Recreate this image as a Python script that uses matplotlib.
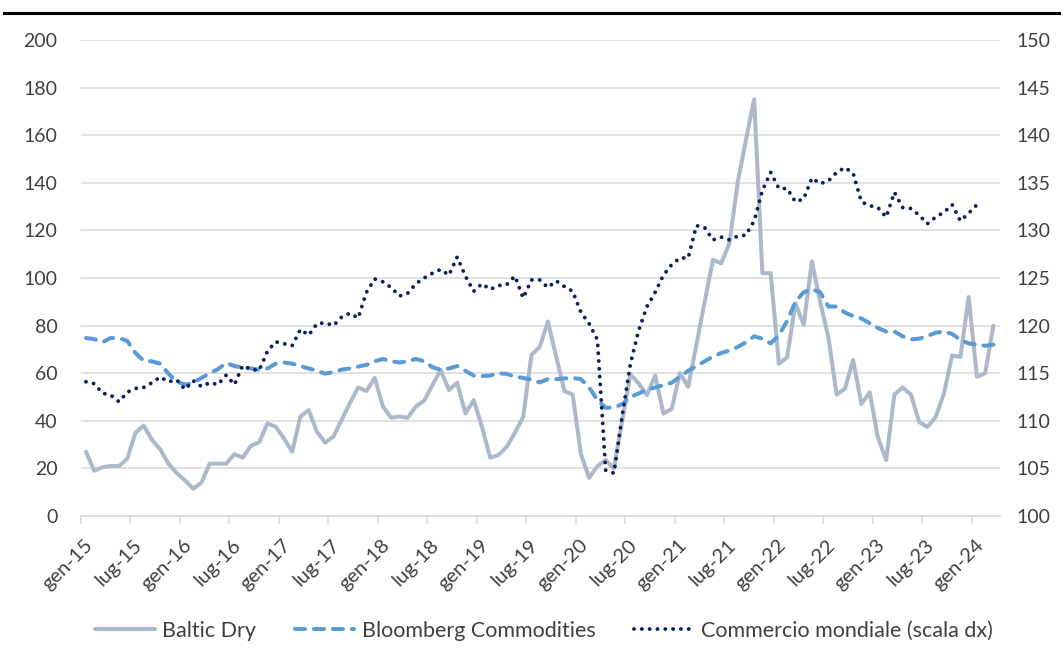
import matplotlib
matplotlib.use("Agg")
import matplotlib.pyplot as plt
from matplotlib.lines import Line2D
import matplotlib.transforms as mtransforms

plt.rcParams['font.family'] = ['Lato', 'DejaVu Sans']

# Monthly values, January 2015 onwards
baltic_dry = [27, 19, 20.5, 21, 21, 24, 35, 38, 32, 28, 22, 18, 15, 11.5, 14, 22, 22, 22, 26, 24.5,
              29.5, 31, 38.9, 37.5, 32.6, 27, 41.8, 44.5, 35.4, 30.8, 33.4, 40.4, 47.5, 54, 52.5, 58,
              46, 41.3, 41.8, 41.3, 46, 48.5, 55, 61.3, 52.9, 56, 43.1, 48.7, 37.5, 24.5, 25.6, 29,
              35, 41.7, 67.7, 71, 81.7, 67, 52.5, 51, 26, 16, 21, 23.5, 20, 40, 59.5, 55.7, 50.8, 59,
              43, 45, 60, 54.3, 72, 90, 107.6, 106.2, 114.6, 140, 158, 175, 102, 102, 64, 66.7, 89.4,
              80.3, 107, 90, 75, 51, 53.5, 65.5, 47, 52, 33, 23.5, 51, 54, 51, 39.5, 37.4, 41.6, 51.4,
              67.5, 66.8, 92, 58.5, 60, 80]

bloomberg = [74.8, 74.3, 73, 74.8, 74.8, 73.6, 68.5, 65.2, 65, 64, 59.8, 56.5, 55.2, 56, 58, 60,
             61.7, 64.3, 63, 62.4, 62, 61.5, 62, 64, 64.5, 64, 63, 62, 61, 59.8, 60.5, 61.5, 62, 62.8,
             63.5, 65, 66, 65, 64.5, 65, 66, 65, 62.5, 61.5, 62, 63, 61, 59, 58.8, 59, 60, 59.7, 58.6,
             58, 57.3, 56.1, 57.5, 57.5, 57.8, 58, 57.5, 54, 48.7, 45.5, 45.5, 47, 50, 51.5, 53, 54,
             55, 56, 58.5, 61, 63, 65, 67, 68.5, 69.5, 71, 73, 75.5, 74.5, 72.5, 76, 82, 90, 94, 95.3,
             94, 88, 88, 85.5, 84, 83, 81, 79, 77.5, 77.5, 75.5, 74.2, 74.5, 75.6, 77, 77.5, 76.5, 74,
             72.5, 72, 71.5, 72]

commercio = [114.1, 113.9, 112.9, 112.7, 112.0, 113.0, 113.4, 113.5, 114.0, 114.6, 114.1, 114.3,
             113.3, 114.2, 113.6, 114.0, 113.8, 114.8, 113.8, 115.8, 115.4, 115.3, 117.3, 118.3,
             118.1, 117.9, 119.6, 119.0, 120.2, 120.3, 120.0, 120.9, 121.3, 120.8, 123.5, 124.9,
             124.6, 124.0, 123.1, 123.4, 124.4, 125.0, 125.5, 125.9, 125.3, 127.2, 125.2, 123.6,
             124.4, 123.8, 124.2, 124.3, 125.2, 122.9, 124.8, 124.8, 124.0, 124.7, 124.1, 123.6,
             121.4, 120.2, 118.5, 104.8, 104.5, 110.5, 116.0, 119.5, 122.0, 123.5, 125.3, 126.4,
             127.1, 127.1, 130.5, 130.3, 129.0, 129.3, 129.0, 129.4, 129.5, 131.0, 134.2, 136.1,
             134.4, 134.4, 133.0, 133.3, 135.5, 134.9, 135.2, 136.1, 136.6, 136.0, 133.0, 132.6,
             132.4, 131.4, 134.0, 132.4, 132.3, 131.6, 130.7, 131.4, 131.9, 132.7, 131.0, 131.8,
             132.7]

tick_labels = ['gen-15', 'lug-15', 'gen-16', 'lug-16', 'gen-17', 'lug-17', 'gen-18', 'lug-18',
               'gen-19', 'lug-19', 'gen-20', 'lug-20', 'gen-21', 'lug-21', 'gen-22', 'lug-22',
               'gen-23', 'lug-23', 'gen-24']

series_names = ['Baltic Dry', 'Bloomberg Commodities', 'Commercio mondiale (scala dx)']

point_offset = 0.6  # data points sit a little after the month tick
x_b = [i + point_offset for i in range(len(baltic_dry))]
x_bl = [i + point_offset for i in range(len(bloomberg))]
x_c = [i + point_offset for i in range(len(commercio))]
tick_pos = [6 * i for i in range(len(tick_labels))]

fig = plt.figure(figsize=(10.63, 6.61), dpi=100)
ax = fig.add_axes([81 / 1063, 1 - 516 / 661, (1000 - 81) / 1063, (516 - 40) / 661])
ax2 = ax.twinx()

grid_c = '#d9d9d9'
text_c = '#404040'

l1, = ax.plot(x_b, baltic_dry, color='#adb9ca', lw=2.9, solid_joinstyle='round',
              solid_capstyle='round', label=series_names[0], zorder=3)
l2, = ax.plot(x_bl, bloomberg, color='#5b9bd5', lw=2.9, linestyle=(0, (2.5, 2.2)),
              dash_capstyle='round', label=series_names[1], zorder=4)
l3, = ax2.plot(x_c, commercio, color='#0a1f5c', lw=2.8, linestyle=(0, (0.01, 2.0)),
               dash_capstyle='round', label=series_names[2], zorder=5)

ax.set_ylim(0, 200)
ax.set_yticks(range(0, 201, 20))
ax2.set_ylim(100, 150)
ax2.set_yticks(range(100, 151, 5))
ax.set_xlim(0, 111.4)

ax.grid(axis='y', color=grid_c, lw=1.1, zorder=0)
ax.set_axisbelow(True)
for a in (ax, ax2):
    for s in ('top', 'left', 'right'):
        a.spines[s].set_visible(False)
    a.spines['bottom'].set_color(grid_c)
    a.spines['bottom'].set_linewidth(1.1)
ax2.spines['bottom'].set_visible(False)

ax.tick_params(axis='y', length=0, pad=17, labelsize=14, labelcolor=text_c)
ax2.tick_params(axis='y', length=0, pad=12, labelsize=14, labelcolor=text_c)
ax.set_xticks(tick_pos)
ax.set_xticklabels(tick_labels, rotation=45, ha='right', va='center',
                   rotation_mode='anchor', fontsize=14.5, color=text_c)
ax.tick_params(axis='x', length=6, width=1.1, color=grid_c, direction='out', pad=13)
offset = mtransforms.ScaledTranslation(9 / 100, 0, fig.dpi_scale_trans)
for lab in ax.get_xticklabels():
    lab.set_transform(lab.get_transform() + offset)

leg = fig.legend(handles=[l1, l2, l3], loc='center', bbox_to_anchor=(544 / 1063, 30 / 661),
                 ncol=3, frameon=False, fontsize=15.5, handlelength=2.75, handletextpad=0.35,
                 columnspacing=1.8, labelcolor=text_c)

fig.add_artist(Line2D([0.004, 0.996], [1 - 12.5 / 661, 1 - 12.5 / 661], color='black', lw=2.2,
                      transform=fig.transFigure))

fig.savefig('out.png', dpi=100)
